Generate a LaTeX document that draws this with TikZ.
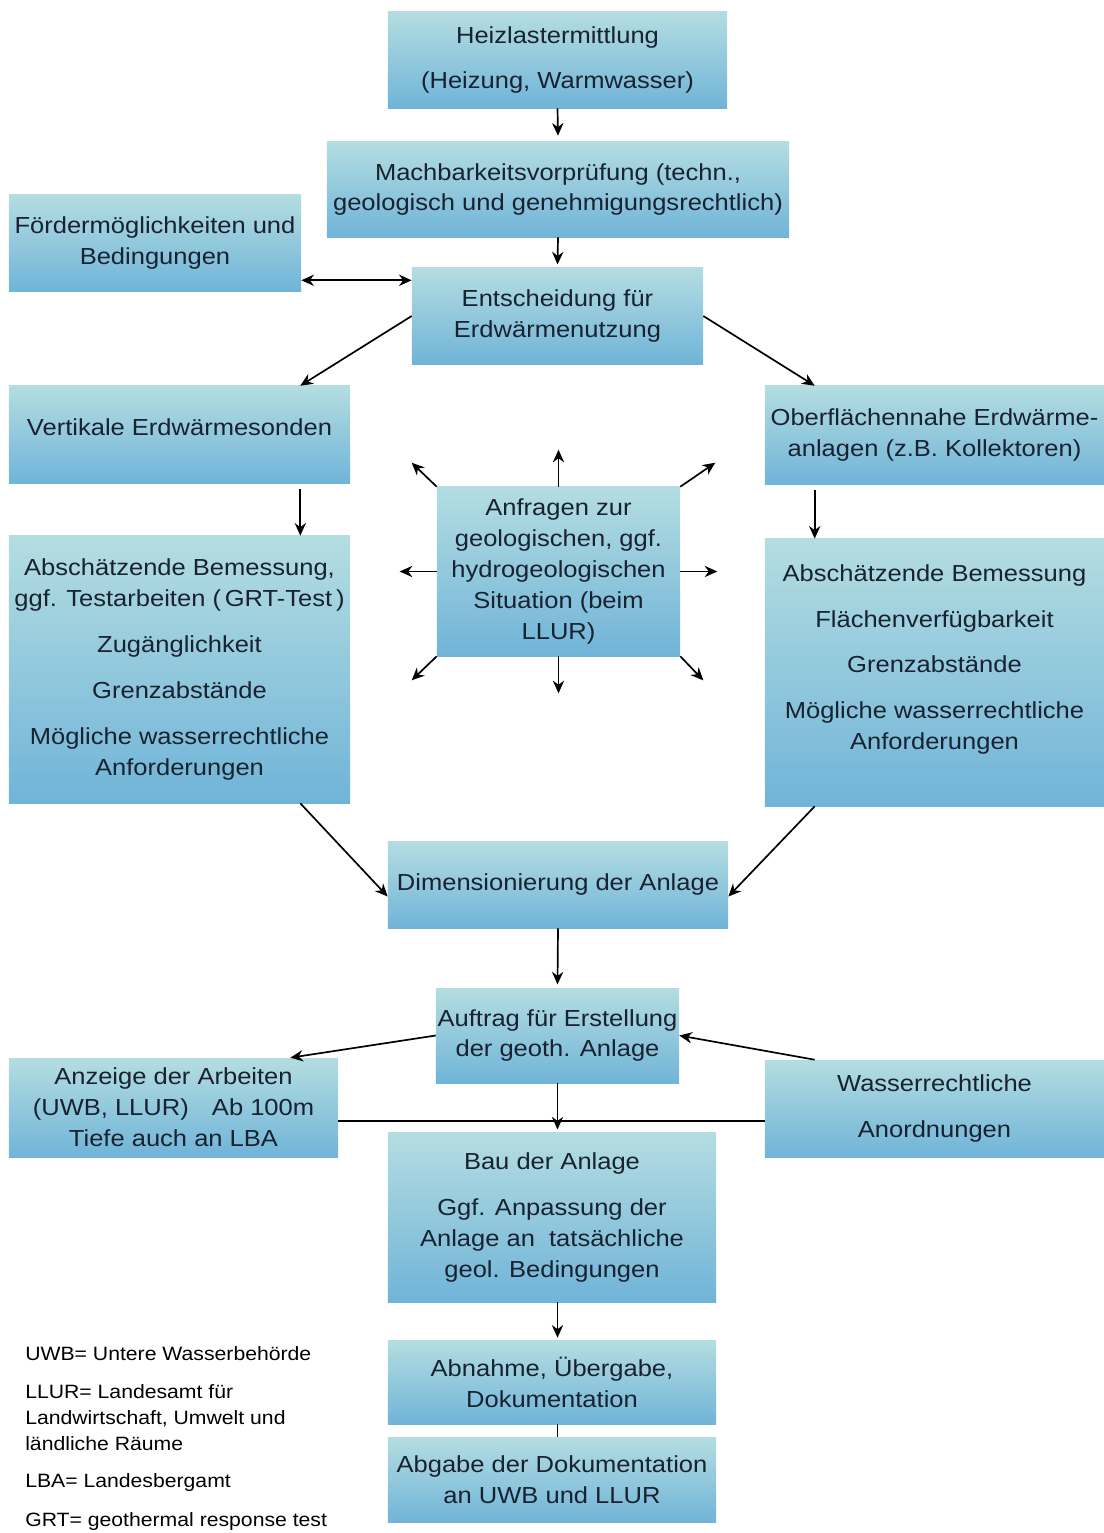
\documentclass[tikz,border=0pt]{standalone}
\usepackage{fontspec}
\setmainfont{Liberation Sans}[FakeStretch=1.1]
\usetikzlibrary{positioning}
\usetikzlibrary{arrows.meta}
\definecolor{boxtop}{RGB}{180,221,225}
\definecolor{boxbot}{RGB}{112,180,216}
\definecolor{boxtext}{RGB}{24,34,48}
\begin{document}
\begin{tikzpicture}[x=0.025cm, y=-0.025cm,
  block/.style={rectangle, inner sep=0pt, top color=boxtop, bottom color=boxbot, align=center, text=boxtext, font=\fontsize{16.5}{22}\selectfont},
  arr/.style={-{Stealth[length=9pt,width=8pt]}, line width=1.2pt},
  arrboth/.style={{Stealth[length=9pt,width=8pt]}-{Stealth[length=9pt,width=8pt]}, line width=1.2pt},
  legend/.style={anchor=west, inner sep=0pt, align=left, font=\fontsize{13.7}{18.5}\selectfont}]
\useasboundingbox (0,0) rectangle (1104,1533);
\node[block, minimum width=8.475cm, minimum height=2.4cm] (heiz) at (557.5,60) {Heizlastermittlung\\[0.35cm](Heizung, Warmwasser)};
\node[block, minimum width=11.55cm, minimum height=2.375cm] (mach) at (558,189.5) {Machbarkeitsvorprüfung (techn.,\\geologisch und genehmigungsrechtlich)};
\node[block, minimum width=7.3cm, minimum height=2.4cm] (foerder) at (155,243) {Fördermöglichkeiten und\\Bedingungen};
\node[block, minimum width=7.275cm, minimum height=2.4cm] (entsch) at (557.5,316) {Entscheidung für\\Erdwärmenutzung};
\node[block, minimum width=8.525cm, minimum height=2.425cm] (vert) at (179.5,434.5) {Vertikale Erdwärmesonden\\[-0.38cm]};
\node[block, minimum width=8.475cm, minimum height=2.45cm] (ober) at (934.5,435) {Oberflächennahe Erdwärme-\\anlagen (z.B. Kollektoren)};
\node[block, minimum width=6.075cm, minimum height=4.225cm] (anfr) at (558.5,571.5) {Anfragen zur\\geologischen, ggf.\\hydrogeologischen\\Situation (beim\\LLUR)};
\node[block, minimum width=8.525cm, minimum height=6.675cm] (abschL) at (179.5,669.5) {Abschätzende Bemessung,\\ggf. Testarbeiten (\,GRT-Test\,)\\[0.37cm]Zugänglichkeit\\[0.37cm]Grenzabstände\\[0.37cm]Mögliche wasserrechtliche\\Anforderungen};
\node[block, minimum width=8.475cm, minimum height=6.675cm] (abschR) at (934.5,672.5) {Abschätzende Bemessung\\[0.37cm]Flächenverfügbarkeit\\[0.37cm]Grenzabstände\\[0.37cm]Mögliche wasserrechtliche\\Anforderungen\\[0pt]};
\node[block, minimum width=8.5cm, minimum height=2.175cm] (dim) at (558,884.5) {Dimensionierung der Anlage};
\node[block, minimum width=6.075cm, minimum height=2.375cm] (auftrag) at (557.5,1035.5) {Auftrag für Erstellung\\der geoth. Anlage};
\node[block, minimum width=8.225cm, minimum height=2.475cm] (anzeige) at (173.5,1107.5) {Anzeige der Arbeiten\\(UWB, LLUR)\quad Ab 100m\\Tiefe auch an LBA};
\node[block, minimum width=8.475cm, minimum height=2.425cm] (wasser) at (934.5,1108.5) {Wasserrechtliche\\[0.37cm]Anordnungen};
\node[block, minimum width=8.2cm, minimum height=4.225cm] (bau) at (552,1217.5) {Bau der Anlage\\[0.37cm]Ggf. Anpassung der\\Anlage an\ \ tatsächliche\\geol. Bedingungen};
\node[block, minimum width=8.2cm, minimum height=2.1cm] (abnahme) at (552,1382) {Abnahme, Übergabe,\\Dokumentation};
\node[block, minimum width=8.2cm, minimum height=2.125cm] (abgabe) [below=0.325cm of abnahme] {Abgabe der Dokumentation\\an UWB und LLUR};
% legend
\node[legend] (uwb) at (25,1354) {UWB= Untere Wasserbehörde};
\node[legend] (llur) at (25,1418) {LLUR= Landesamt für\\Landwirtschaft, Umwelt und\\ländliche Räume};
\node[legend] (lba) at (25,1482) {LBA= Landesbergamt};
\node[legend] (grt) at (25,1521) {GRT= geothermal response test};
% connectors
\draw[arr] (heiz.south) -- ([yshift=0.15cm]mach.north);
\draw[arr] (mach.south) -- ([yshift=0.08cm]entsch.north);
\draw[arrboth] ([yshift=0.275cm]foerder.south east) -- ([yshift=0.275cm]foerder.south east -| entsch.west);
\draw[arr] (entsch.west) -- ([xshift=-1.25cm]vert.north east);
\draw[arr] (entsch.east) -- ([xshift=1.25cm]ober.north west);
\draw[arr] ([xshift=-1.25cm,yshift=-0.15cm]vert.south east) -- ([xshift=-1.25cm]abschL.north east);
\draw[arr] ([xshift=1.25cm,yshift=-0.15cm]ober.south west) -- ([xshift=1.25cm]abschR.north west);
\foreach \anc/\dx/\dy in {north/0/-37, south/0/37, west/-37/0, east/37/0, north west/-25/-24, north east/35/-24, south west/-25/24, south east/23/24}
  \draw[arr] (anfr.\anc) -- ++(\dx,\dy);
\draw[arr] ([xshift=-1.25cm]abschL.south east) -- ([yshift=-0.3cm]dim.west);
\draw[arr] ([xshift=1.25cm]abschR.south west) -- ([yshift=-0.3cm]dim.east);
\draw[arr] (dim.south) -- ([yshift=0.08cm]auftrag.north);
\draw[arr] (auftrag.west) -- ([xshift=-1.2cm]anzeige.north east);
\draw[arr] ([xshift=1.25cm]wasser.north west) -- (auftrag.east);
\draw[line width=1.2pt] ([yshift=-0.34cm]anzeige.east) -- ([yshift=-0.34cm]anzeige.east -| wasser.west);
\draw[arr] (auftrag.south) -- ([yshift=0.08cm]auftrag.south |- bau.north);
\draw[arr] (auftrag.south |- bau.south) -- ([yshift=0.05cm]auftrag.south |- abnahme.north);
\draw[line width=1.2pt] (auftrag.south |- abnahme.south) -- (auftrag.south |- abgabe.north);
\end{tikzpicture}
\end{document}
